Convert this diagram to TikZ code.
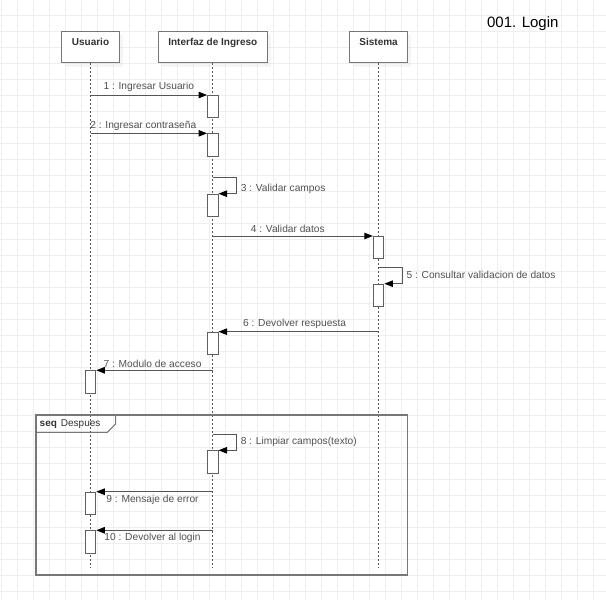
\documentclass[tikz,border=0pt]{standalone}
\usepackage{fontspec}
\setmainfont{Liberation Sans}
\usetikzlibrary{arrows.meta,shadows}
\definecolor{gridcol}{HTML}{EFEFEF}
\definecolor{linecol}{HTML}{555555}
\definecolor{boxcol}{HTML}{777777}
\definecolor{txtcol}{HTML}{505050}

\begin{document}
\begin{tikzpicture}[x=1pt,y=-1pt,>={Triangle[length=8.5pt,width=6.5pt,color=black]},
  head/.style={draw=boxcol,line width=1pt,fill=white,minimum height=31.6pt,anchor=north,inner sep=0pt,
    text height=7.5pt,text depth=9.7pt,font=\fontsize{10}{12}\selectfont\bfseries,text=black!80,
    drop shadow={opacity=0.08,shadow xshift=4pt,shadow yshift=-4pt}},
  life/.style={draw=linecol,line width=0.8pt,dash pattern=on 2pt off 2pt},
  act/.style={draw=boxcol!80!black,line width=1pt,fill=white,minimum width=10.5pt,minimum height=22.3pt,inner sep=0pt,anchor=north},
  msg/.style={draw=linecol,line width=0.9pt,->},
  lbl/.style={font=\fontsize{10.2}{12}\selectfont,text=txtcol,inner sep=1pt}]
\useasboundingbox (0,0) rectangle (606,600);
% grid
\foreach \i in {0,...,37} \draw[gridcol,line width=1pt] (1+16*\i,0) -- (1+16*\i,600);
\foreach \j in {1,...,37} \draw[gridcol,line width=1pt] (0,-0.7+16*\j) -- (606,-0.7+16*\j);
\node[font=\fontsize{15}{18}\selectfont] (title) at (522.8,23.3) {001. Login};
% lifelines
\node[head,minimum width=57.3pt] (usr) at (90.5,30.7) {Usuario};
\node[head,minimum width=109pt] (gui) at (212.8,30.7) {Interfaz de Ingreso};
\node[head,minimum width=57.6pt] (sys) at (378.6,30.7) {Sistema};
\foreach \n in {usr,gui,sys} \draw[life] (\n.south) -- (\n.south |- 0,568.3);
% activations
\foreach \k/\l/\y in {1/gui/95,2/gui/133.3,3/gui/193.7,4/sys/236,5/sys/283.7,6/gui/331.7,7/usr/370.3,8/gui/450.3,9/usr/491.7,10/usr/530.3}
  \node[act] (act\k) at (\l.center |- 0,\y) {};
% messages
\draw[msg] (act1.north west -| usr.center) -- node[lbl,above=1.5pt]{1 : Ingresar Usuario} (act1.north west);
\draw[msg] (act2.north west -| usr.center) -- node[lbl,above=1.5pt,xshift=-5.5pt]{2 : Ingresar contraseña} (act2.north west);
\draw[msg] (act3.north -| gui.center) ++(0,-16) -- ++(23.5,0) |- node[lbl,pos=0.36,right=3pt]{3 : Validar campos} (act3.north east);
\draw[msg] (act4.north west -| gui.center) -- node[lbl,above=1.5pt,xshift=-5pt]{4 : Validar datos} (act4.north west);
\draw[msg] (act5.north -| sys.center) ++(0,-16) -- ++(23.5,0) |- node[lbl,pos=0.22,right=3pt]{5 : Consultar validacion de datos} (act5.north east);
\draw[msg] (act6.north east -| sys.center) -- node[lbl,above=1.5pt,xshift=-4pt]{6 : Devolver respuesta} (act6.north east);
\draw[msg] (act7.north east -| gui.center) -- node[lbl,above=1.5pt,xshift=-2pt]{7 : Modulo de acceso} (act7.north east);
% fragment
\draw[boxcol,line width=1.3pt] (36,415) rectangle (407.3,575);
\draw[boxcol,line width=1pt] (36,432.3) -- (107.3,432.3) -- (115.7,424) -- (115.7,415);
\node[anchor=west,inner sep=0pt,font=\fontsize{10}{12}\selectfont,text=black!80] (seqlbl) at (39.5,424) {\textbf{seq}\hspace{4pt}Despues};
\draw[msg] (act8.north -| gui.center) ++(0,-16) -- ++(23.5,0) |- node[lbl,pos=0.25,right=3pt]{8 : Limpiar campos(texto)} (act8.north east);
\draw[msg] (act9.north east -| gui.center) -- node[lbl,below=1.5pt,xshift=-2pt]{9 : Mensaje de error} (act9.north east);
\draw[msg] (act10.north east -| gui.center) -- node[lbl,below=1.5pt,xshift=-2pt]{10 : Devolver al login} (act10.north east);
\end{tikzpicture}
\end{document}
